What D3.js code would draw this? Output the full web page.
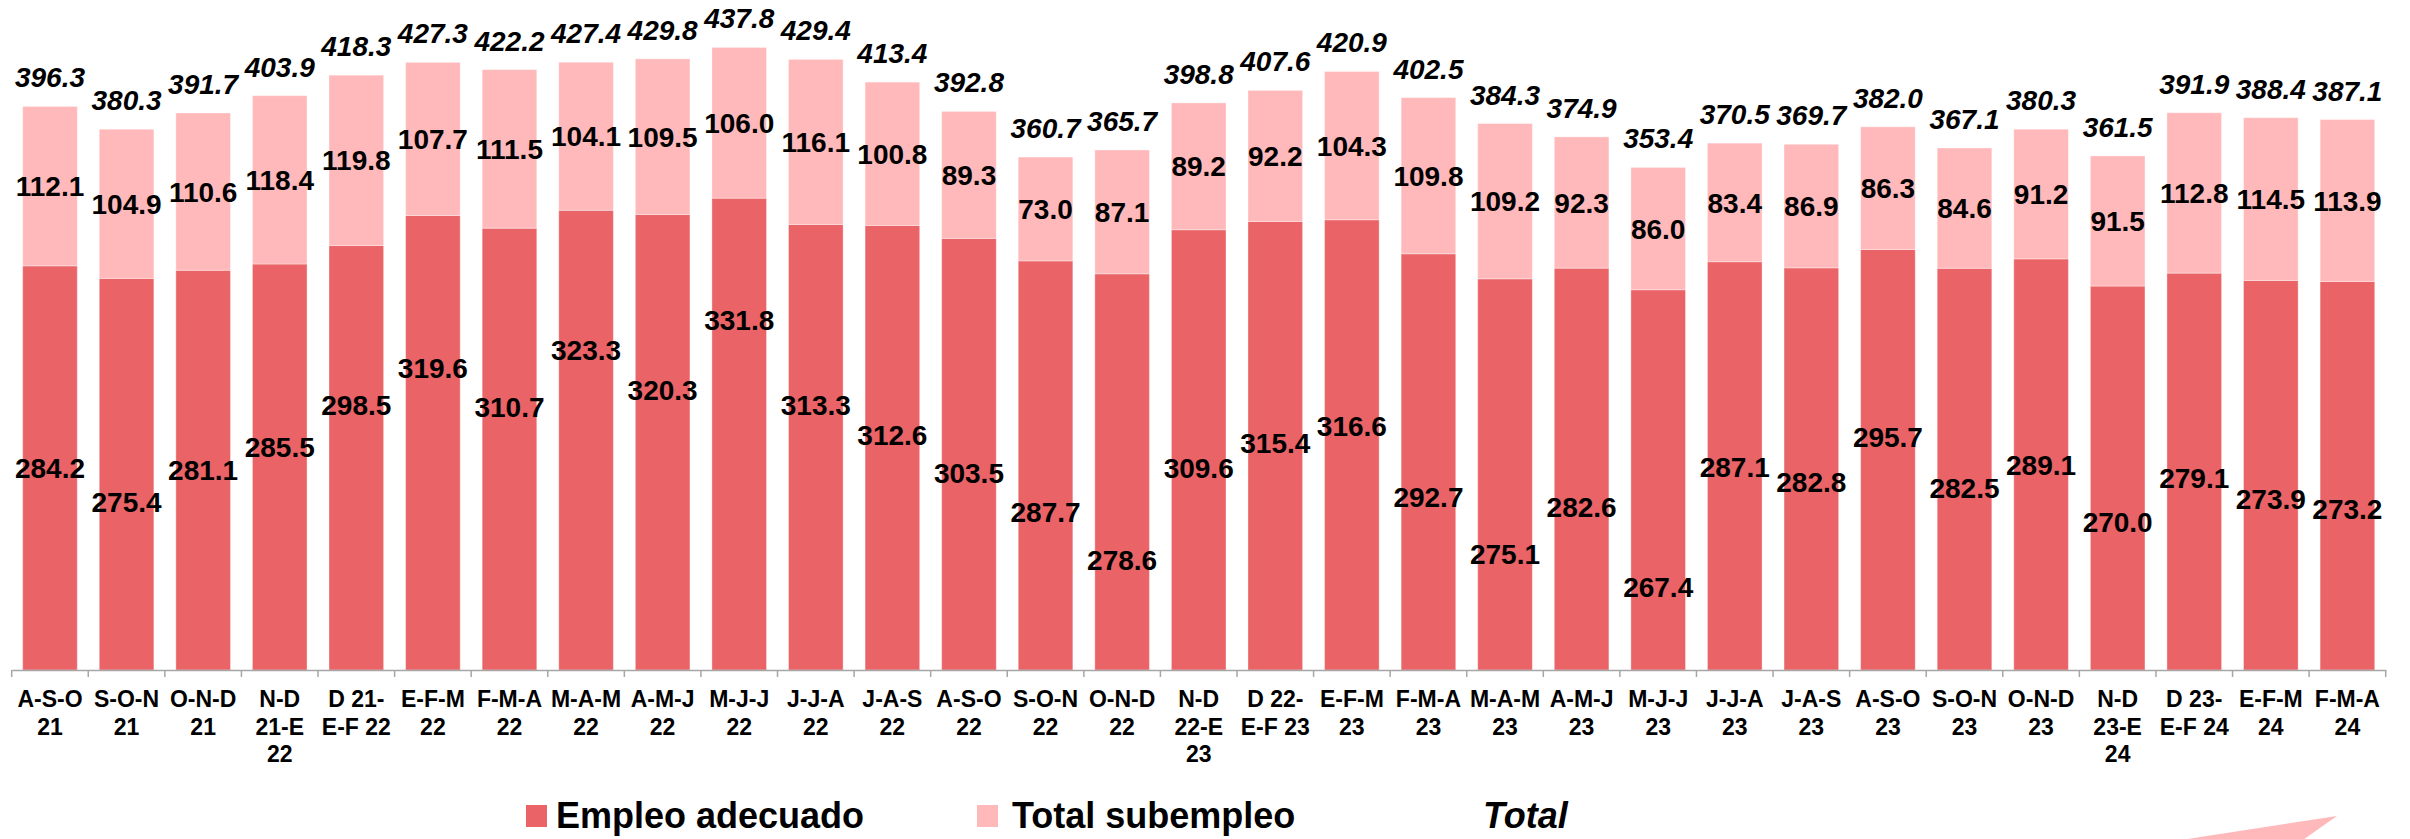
<!DOCTYPE html>
<html>
<head>
<meta charset="utf-8">
<script src="https://cdn.jsdelivr.net/npm/d3@7/dist/d3.min.js"></script>
<style>
  body { margin: 0; background: #fff; }
  text { font-family: "Liberation Sans", Arial, sans-serif; font-weight: bold; fill: #000; }
</style>
</head>
<body>
<div id="chart-area"></div>
<script>
// trimestres móviles (líneas de la etiqueta separadas por |)
const categories = [
  "A-S-O|21", "S-O-N|21", "O-N-D|21", "N-D|21-E|22", "D 21-|E-F 22",
  "E-F-M|22", "F-M-A|22", "M-A-M|22", "A-M-J|22", "M-J-J|22",
  "J-J-A|22", "J-A-S|22", "A-S-O|22", "S-O-N|22", "O-N-D|22",
  "N-D|22-E|23", "D 22-|E-F 23", "E-F-M|23", "F-M-A|23", "M-A-M|23",
  "A-M-J|23", "M-J-J|23", "J-J-A|23", "J-A-S|23", "A-S-O|23",
  "S-O-N|23", "O-N-D|23", "N-D|23-E|24", "D 23-|E-F 24", "E-F-M|24",
  "F-M-A|24"
]

const empleoAdecuado = [
  284.2, 275.4, 281.1, 285.5, 298.5, 319.6, 310.7, 323.3, 320.3, 331.8,
  313.3, 312.6, 303.5, 287.7, 278.6, 309.6, 315.4, 316.6, 292.7, 275.1,
  282.6, 267.4, 287.1, 282.8, 295.7, 282.5, 289.1, 270.0, 279.1, 273.9,
  273.2
]

const totalSubempleo = [
  112.1, 104.9, 110.6, 118.4, 119.8, 107.7, 111.5, 104.1, 109.5, 106.0,
  116.1, 100.8, 89.3, 73.0, 87.1, 89.2, 92.2, 104.3, 109.8, 109.2,
  92.3, 86.0, 83.4, 86.9, 86.3, 84.6, 91.2, 91.5, 112.8, 114.5,
  113.9
]

const total = [
  396.3, 380.3, 391.7, 403.9, 418.3, 427.3, 422.2, 427.4, 429.8, 437.8,
  429.4, 413.4, 392.8, 360.7, 365.7, 398.8, 407.6, 420.9, 402.5, 384.3,
  374.9, 353.4, 370.5, 369.7, 382.0, 367.1, 380.3, 361.5, 391.9, 388.4,
  387.1
]

const seriesNames = ["Empleo adecuado", "Total subempleo", "Total"]

// layout
const WIDTH = 2410
const HEIGHT = 839
const AXIS_Y = 670
const COLORS = {adecuado: "#EA6366", sub: "#FFB9BA"}

// the original had its dark labels dragged by hand: nudge (px) from segment centre
const adecuadoLabelNudge = [
  0, 28, 0, -20, -53, -75, -42, -90, -52, -114, -42, -13, 19, 46, 88, 18,
  -3, -19, 35, 80, 38, 107, 1, 13, -23, 19, 0, 44, 6, 24, 33
]

const data = categories.map((c, i) => ({
  cat: c,
  adecuado: empleoAdecuado[i],
  sub: totalSubempleo[i],
  total: total[i]
}))

const svg = d3.select("#chart-area").append("svg")
  .attr("width", WIDTH)
  .attr("height", HEIGHT)

const x = d3.scaleBand()
  .domain(categories)
  .range([11.7, 2385.7])
  .paddingInner(0.287)
  .paddingOuter(0.1435)

const y = d3.scaleLinear()
  .domain([0, 450])
  .range([AXIS_Y, AXIS_Y - 450 * 1.422])

const stack = d3.stack().keys(["adecuado", "sub"])
const layers = stack(data)

// stacked bars
svg.append("g").selectAll("g")
  .data(layers)
  .join("g")
    .attr("fill", d => d.key === "adecuado" ? COLORS.adecuado : COLORS.sub)
  .selectAll("rect")
  .data(d => d)
  .join("rect")
    .attr("x", d => x(d.data.cat))
    .attr("y", d => y(d[1]))
    .attr("width", x.bandwidth())
    .attr("height", d => y(d[0]) - y(d[1]))
    .attr("stroke", "#ffffff")
    .attr("stroke-opacity", 0.35)
    .attr("stroke-width", 1)

// x axis
const xAxis = d3.axisBottom(x).tickSize(0).tickFormat("")
const axisG = svg.append("g")
  .attr("transform", `translate(0, ${AXIS_Y})`)
  .call(xAxis)
axisG.select(".domain").attr("stroke", "#a6a6a6").attr("stroke-width", 1.5)

// tick marks sit between categories
const boundaries = categories.map(c => x(c) - x.step() * x.paddingInner() / 2)
boundaries.push(x.range()[1])
axisG.selectAll("line.sep")
  .data(boundaries)
  .join("line")
    .attr("class", "sep")
    .attr("x1", d => d).attr("x2", d => d)
    .attr("y1", 0).attr("y2", 7)
    .attr("stroke", "#a6a6a6")
    .attr("stroke-width", 1.5)

// category labels (multi-line)
const catText = svg.append("g").selectAll("text")
  .data(categories)
  .join("text")
    .attr("x", d => x(d) + x.bandwidth() / 2)
    .attr("y", AXIS_Y + 37)
    .attr("text-anchor", "middle")
    .attr("font-size", "23px")
catText.selectAll("tspan")
  .data(d => d.split("|"))
  .join("tspan")
    .attr("x", function() { return d3.select(this.parentNode).attr("x") })
    .attr("dy", (d, i) => i === 0 ? 0 : 27.5)
    .text(d => d)

// labels in the dark segment
svg.append("g").selectAll("text")
  .data(data)
  .join("text")
    .attr("x", d => x(d.cat) + x.bandwidth() / 2)
    .attr("y", (d, i) => y(d.adecuado / 2) + adecuadoLabelNudge[i])
    .attr("dy", "0.36em")
    .attr("text-anchor", "middle")
    .attr("font-size", "28px")
    .text(d => d.adecuado.toFixed(1))

// labels in the light segment
svg.append("g").selectAll("text")
  .data(data)
  .join("text")
    .attr("x", d => x(d.cat) + x.bandwidth() / 2)
    .attr("y", d => y(d.adecuado + d.sub / 2))
    .attr("dy", "0.36em")
    .attr("text-anchor", "middle")
    .attr("font-size", "28px")
    .text(d => d.sub.toFixed(1))

// totals above the bars
svg.append("g").selectAll("text")
  .data(data)
  .join("text")
    .attr("x", d => x(d.cat) + x.bandwidth() / 2)
    .attr("y", d => y(d.total) - 19)
    .attr("text-anchor", "middle")
    .attr("font-size", "28px")
    .attr("font-style", "italic")
    .text(d => d.total.toFixed(1))

// legend
const legend = svg.append("g").attr("transform", "translate(0, 828)")
const legendItems = [
  {name: seriesNames[0], color: COLORS.adecuado, box: 526, text: 556},
  {name: seriesNames[1], color: COLORS.sub, box: 977, text: 1012},
  {name: seriesNames[2], color: null, box: null, text: 1483}
]
legendItems.forEach(item => {
  if (item.color) {
    legend.append("rect")
      .attr("x", item.box)
      .attr("y", -23)
      .attr("width", 21)
      .attr("height", 22)
      .attr("fill", item.color)
  }
  legend.append("text")
    .attr("x", item.text)
    .attr("y", 0)
    .attr("font-size", "36px")
    .attr("font-style", item.color ? "normal" : "italic")
    .text(item.name)
})

// slide decoration at the bottom right corner
svg.append("path")
  .attr("d", "M2337,816 L2168,842 L2300,842 Z")
  .attr("fill", COLORS.sub)
</script>
</body>
</html>
